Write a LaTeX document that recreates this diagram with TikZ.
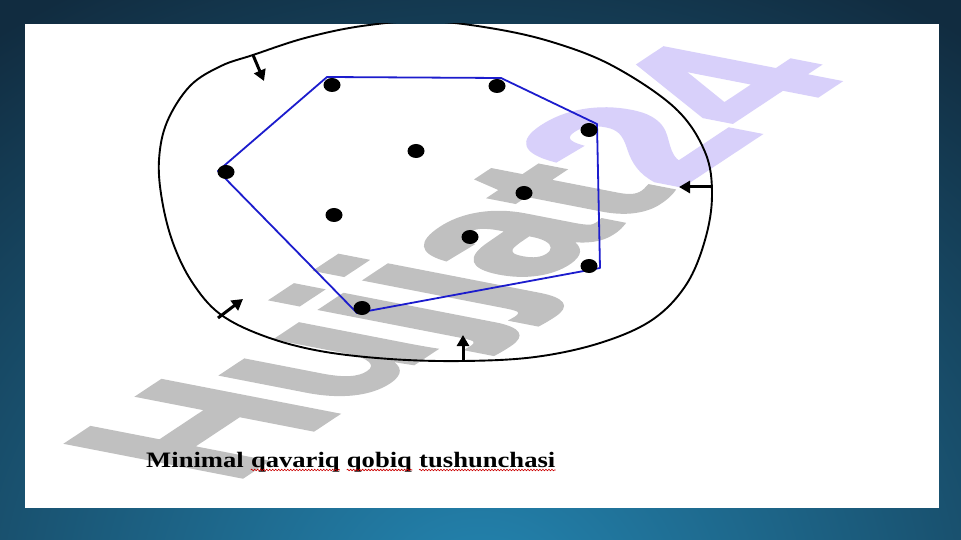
\documentclass[tikz,border=0pt]{standalone}
\usepackage{fontspec}
\setmainfont{Liberation Serif}
\newfontfamily\wmfont{Liberation Sans Bold}[FakeBold=2.5]
\usetikzlibrary{arrows.meta,positioning,decorations.pathmorphing}
\definecolor{bgdark}{RGB}{17,44,64}
\definecolor{bglight}{RGB}{36,134,178}
\definecolor{hullblue}{RGB}{28,28,205}
\definecolor{wmgray}{RGB}{192,192,192}
\definecolor{wmlilac}{RGB}{216,208,250}
\def\spot(#1){\fill (#1) ellipse [x radius=8.5, y radius=7];}
\tikzset{
	blob/.style={line width=1.9pt},
	hull/.style={hullblue, line width=1.8pt, line join=round},
	pusharrow/.style={line width=3pt, -{Triangle[length=11pt,width=12pt]}},
	capword/.style={font=\fontsize{22}{24}\selectfont\bfseries, inner sep=0pt, transform shape},
	squiggle/.style={red!80!black, line width=0.6pt, decorate, decoration={snake, amplitude=0.8pt, segment length=3pt}}
}

\begin{document}
\begin{tikzpicture}[x=1pt,y=-1pt]
			%%%%% START %%%%%
			\useasboundingbox (0,0) rectangle (961,540);
			
			% slide background
			\fill[bgdark] (0,0) rectangle (961,540);
			\begin{scope}
				\clip (0,0) rectangle (961,540);
				\shade[inner color=bglight, outer color=bgdark] (480,600) ellipse [x radius=820, y radius=700];
			\end{scope}
			\fill[white] (25,24) rectangle (939,508);
			
			% watermark
			\begin{scope}[shift={(228,486)}]
				\node[anchor=base west, inner sep=0pt, cm={16.0,10.6,-25.2,4.9,(0,0)}, transform shape,
					font=\wmfont\fontsize{10}{12}\selectfont] (wm) at (0,0)
					{\textcolor{wmgray}{Hujjat}\textcolor{wmlilac}{24}};
			\end{scope}
			
			% outer curve
			\begin{scope}
				\clip (25,24) rectangle (939,508);
				\draw[blob] plot[smooth cycle, tension=0.6] coordinates {
					(425,21) (490,28) (552,42) (613,66) (675,108) (705,152) (712,195)
					(705,240) (686,285) (652,320) (600,343) (535,357) (463,361)
					(390,359) (320,351) (264,336) (220,314) (192,282) (173,243)
					(162,200) (159,160) (167,122) (190,86) (221,66) (253,55)
					(305,38) (362,26)};
			\end{scope}
			
			% hull
			\coordinate (h1) at (327,77);
			\coordinate (h2) at (501,78);
			\coordinate (h3) at (597,124);
			\coordinate (h4) at (600,268);
			\coordinate (h5) at (357,313);
			\coordinate (h6) at (218,171);
			\draw[hull] (h1) -- (h2) -- (h3) -- (h4) -- (h5) -- (h6) -- cycle;
			
			% points
			\spot(332,85)
			\spot(497,86)
			\spot(589,130)
			\spot(416,151)
			\spot(226,172)
			\spot(524,193)
			\spot(334,215)
			\spot(470,237)
			\spot(589,266)
			\spot(362,308)
			
			% arrows
			\coordinate (a1) at (253,55);
			\coordinate (a2) at (712,187);
			\coordinate (a3) at (218,318);
			\coordinate (a4) at (463,361);
			\draw[pusharrow] (a1) -- (264,81);
			\draw[pusharrow] (a2) -- (679,187);
			\draw[pusharrow] (a3) -- (243,299);
			\draw[pusharrow] (a4) -- (463,335);
			
			% caption
			\begin{scope}[shift={(146,467)}, xscale=1.21]
				\node[capword, anchor=base west] (w1) at (0,0) {Minimal};
				\node[capword, base right=5.5pt of w1] (w2) {qavariq};
				\node[capword, base right=5.5pt of w2] (w3) {qobiq};
				\node[capword, base right=5.5pt of w3] (w4) {tushunchasi};
			\end{scope}
			\draw[squiggle] ([yshift=-3pt]w2.base west) -- ([yshift=-3pt]w2.base east);
			\draw[squiggle] ([yshift=-3pt]w3.base west) -- ([yshift=-3pt]w3.base east);
			\draw[squiggle] ([yshift=-3pt]w4.base west) -- ([yshift=-3pt]w4.base east);
			
			%%%%% END %%%%%
\end{tikzpicture}
\end{document}
